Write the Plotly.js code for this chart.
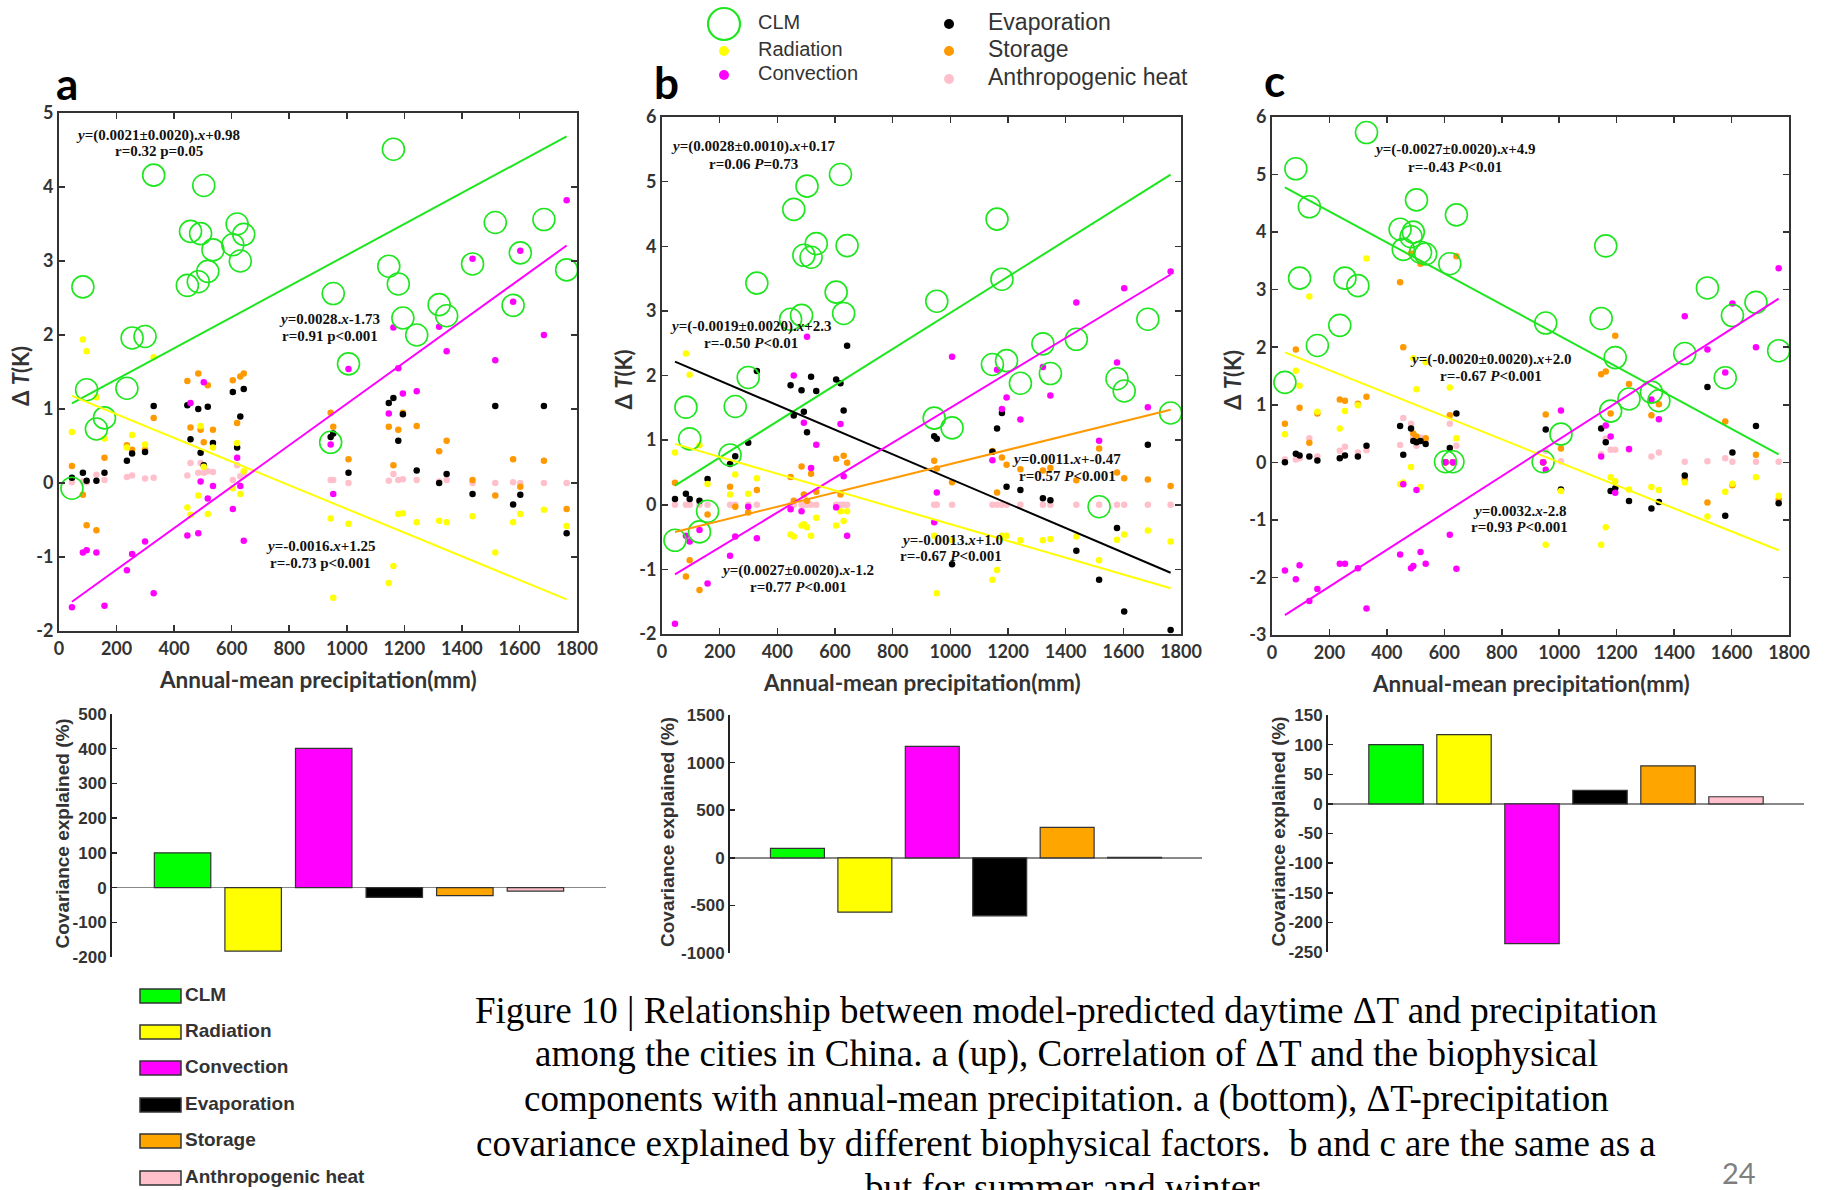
<!DOCTYPE html>
<html><head><meta charset="utf-8">
<script src="https://cdn.plot.ly/plotly-3.0.1.min.js"></script>
<style>html,body{margin:0;padding:0;background:#fff;}#chart{width:1825px;height:1190px;}</style>
</head><body><div id="chart"></div>
<script>
// ---------------- data ----------------
const precip = [45, 83, 96, 130, 158, 236, 254, 299, 329, 446, 457, 484, 492, 503, 517, 535, 604, 619, 630, 642, 944, 953, 1006, 1146, 1162, 1179, 1195, 1243, 1321, 1347, 1437, 1516, 1578, 1603, 1685, 1764];

// panel a (annual)
const clmA  = [-0.07, 2.65, 1.26, 0.73, 0.88, 1.28, 1.96, 1.98, 4.16, 2.67, 3.40, 2.72, 3.37, 4.02, 2.86, 3.15, 3.22, 3.50, 3.00, 3.36, 0.55, 2.56, 1.61, 2.93, 4.51, 2.69, 2.23, 2.00, 2.41, 2.26, 2.96, 3.52, 2.40, 3.11, 3.56, 2.88];
const radA  = [0.69, 1.94, 1.78, 1.16, 0.60, 0.48, 0.65, 0.52, 1.70, -0.33, -0.43, -0.17, 0.77, 0.22, -0.42, 0.48, -0.07, 0.54, -0.15, 0.16, -0.48, -1.55, -0.55, -1.35, -1.12, -0.42, -0.41, -0.53, -0.51, -0.53, -0.45, -0.94, -0.53, -0.42, -0.36, -0.58];
const convA = [-1.68, -0.94, -0.91, -0.94, -1.66, -1.18, -0.96, -0.79, -1.49, -0.71, 1.08, -0.68, 0.02, 1.36, -0.21, -0.04, -0.35, 0.34, -0.04, -0.78, 0.52, -0.15, 1.54, 0.94, 2.10, 1.55, 1.21, 1.24, 2.11, 1.78, 3.03, 1.66, 2.45, 3.14, 2.00, 3.82];
const evapA = [0.07, 0.14, 0.03, 0.03, 0.14, 0.30, 0.40, 0.42, 1.04, 1.05, 0.59, 1.00, 0.41, 0.24, 1.03, 0.54, 1.23, 0.48, 0.90, 1.27, 0.62, 0.67, 0.14, 1.08, 1.15, 0.57, 0.93, 0.17, 0.00, 0.12, -0.15, 1.04, -0.29, -0.16, 1.04, -0.68];
const storA = [0.23, -0.16, -0.57, -0.64, 0.34, 0.51, 0.45, 0.45, 0.88, 1.38, 0.75, 1.48, 0.72, 0.55, 1.32, 0.72, 1.39, 0.81, 1.44, 1.48, 0.95, 0.76, 0.32, 0.76, 0.24, 0.72, 0.95, 0.77, 0.43, 0.57, 0.04, -0.17, 0.32, -0.05, 0.30, -0.35];
const anthA = [0.01, 0.02, 0.01, 0.11, 0.04, 0.08, 0.10, 0.06, 0.07, 0.10, 0.27, 0.14, 0.27, 0.14, 0.16, 0.15, 0.04, 0.24, 0.09, 0.14, 0.04, 0.04, 0.00, 0.03, 0.12, 0.04, 0.05, 0.04, 0.02, 0.04, 0.00, 0.00, 0.01, 0.00, 0.00, 0.00];

// panel b (summer)
const clmB  = [-0.55, 1.51, 1.02, -0.42, -0.10, 0.77, 1.52, 1.97, 3.43, 2.87, 4.57, 2.93, 3.86, 4.93, 3.83, 4.04, 3.29, 5.11, 2.96, 4.01, 1.34, 3.15, 1.19, 2.17, 4.42, 3.49, 2.23, 1.88, 2.49, 2.03, 2.56, -0.03, 1.95, 1.76, 2.87, 1.42];
const radB  = [0.81, 2.34, 2.01, 0.92, 0.32, 0.16, 0.47, 0.17, 0.41, -0.46, -0.49, -0.32, -0.30, -0.35, -0.48, -0.20, -0.32, -0.10, -0.25, -0.10, -0.48, -1.37, -0.55, -1.16, -1.01, -0.48, -0.48, -0.55, -0.55, -0.53, -0.49, -0.86, -0.54, -0.46, -0.40, -0.57];
const convB = [-1.84, -0.48, -0.57, -0.39, -1.22, -0.79, -0.49, -0.03, -0.52, -0.07, 2.00, -0.10, 1.27, 2.60, 0.57, 0.93, -0.04, 1.25, 0.44, -0.48, -0.27, 0.19, 2.29, 0.69, 2.09, 1.48, 1.66, 1.32, 2.13, 1.69, 3.13, 0.99, 2.20, 3.35, 1.51, 3.61];
const evapB = [0.09, 0.17, 0.09, 0.06, 0.40, 0.63, 0.75, 0.96, 2.07, 1.85, 1.38, 1.77, 1.44, 1.12, 1.98, 1.76, 1.94, 1.88, 1.46, 2.46, 1.06, 1.02, -0.92, 0.82, 1.18, 1.42, 0.28, 0.23, 0.10, 0.07, -0.71, -1.16, -0.36, -1.65, 0.93, -1.94];
const storB = [0.34, -1.11, -0.86, -1.32, -0.15, 0.28, -0.03, -0.12, 0.23, 0.43, 0.06, 0.59, 0.16, 0.06, 0.48, 0.20, 0.71, 0.16, 0.76, 0.65, 0.68, 0.56, 0.35, 0.83, 0.19, 0.73, 0.62, 0.55, 0.53, 0.57, 0.38, 0.87, 0.50, 0.41, 0.39, 0.29];
const anthB = [0, 0, 0, 0, 0, 0, 0, 0, 0, 0, 0, 0, 0, 0, 0, 0, 0, 0, 0, 0, 0, 0, 0, 0, 0, 0, 0, 0, 0, 0, 0, 0, 0, 0, 0, 0];

// panel c (winter)
const clmC  = [1.39, 5.10, 3.20, 4.44, 2.03, 2.38, 3.20, 3.07, 5.73, 4.05, 3.70, 3.92, 4.00, 4.56, 3.65, 3.62, 0.01, 3.45, 0.01, 4.30, 0.01, 2.42, 0.49, 2.50, 3.76, 0.89, 1.82, 1.10, 1.22, 1.07, 1.89, 3.03, 1.47, 2.55, 2.78, 1.94];
const radC  = [0.49, 1.59, 1.33, 2.88, 0.88, 0.59, 0.89, 0.99, 3.54, -0.38, -0.35, -0.08, 1.81, 1.27, -0.43, 1.74, 0, 1.30, 0, 0.42, 0, -1.43, -0.50, -1.43, -1.13, -0.26, -0.33, -0.47, -0.43, -0.48, -0.35, -0.94, -0.51, -0.37, -0.26, -0.58];
const convC = [-1.88, -2.03, -1.79, -2.41, -2.20, -1.76, -1.76, -1.84, -2.54, -1.60, -0.38, -1.84, -1.80, -0.48, -1.56, -1.76, 0, -1.26, 0, -1.85, 0, -0.13, 0.90, 0.10, 0.64, 0.45, -0.53, 0.23, 1.09, 0.75, 2.54, 1.96, 1.56, 2.76, 2.00, 3.37];
const evapC = [0.00, 0.15, 0.12, 0.10, 0.03, 0.07, 0.12, 0.10, 0.29, 0.63, 0.13, 0.59, 0.37, 0.35, 0.37, 0.32, 0, 0.25, 0, 0.85, 0, 0.57, -0.47, 0.59, 0.35, -0.50, -0.45, -0.67, -0.80, -0.69, -0.23, 1.31, -0.93, 0.17, 0.63, -0.71];
const storC = [0.67, 1.96, 0.95, 0.34, 0.85, 1.09, 1.07, 1.02, 1.14, 3.13, 2.00, 3.63, 0.50, 0.45, 3.45, 0.42, 0, 0.82, 0, 3.58, 0, 0.83, 0.24, 1.53, 1.58, 0.85, 2.20, 1.36, 0.82, 1.01, -0.30, -0.70, 0.71, -0.40, 0.13, -0.65];
const anthC = [0.05, 0.05, 0.07, 0.42, 0.10, 0.20, 0.27, 0.17, 0.21, 0.30, 0.77, 0.67, 0.43, 0.29, 0.43, 0.39, 0, 0.67, 0, 0.29, 0, 0.20, 0.02, 0.14, 0.41, 0.22, 0.22, 0.22, 0.10, 0.17, 0.01, 0.02, 0.07, 0.01, 0.01, 0.01];

// regression fits (slope, intercept, series)
const fitSeriesA = ['clm', 'rad', 'conv'];
const fitSlopeA  = [0.0021, -0.0016, 0.0028];
const fitIntA    = [0.98, 1.25, -1.73];
const fitSeriesB = ['clm', 'evap', 'conv', 'stor', 'rad'];
const fitSlopeB  = [0.0028, -0.0019, 0.0027, 0.0011, -0.0013];
const fitIntB    = [0.17, 2.3, -1.2, -0.47, 1.0];
const fitSeriesC = ['clm', 'rad', 'conv'];
const fitSlopeC  = [-0.0027, -0.0020, 0.0032];
const fitIntC    = [4.9, 2.0, -2.8];

// covariance explained (%)
const categories = ['CLM', 'Radiation', 'Convection', 'Evaporation', 'Storage', 'Anthropogenic heat'];
const covA = [100, -183, 401, -28, -23, -10];
const covB = [100, -571, 1170, -609, 320, 5];
const covC = [100, 117, -236, 23, 64, 12];

// ---------------- styling / layout ----------------
const W = 1825, H = 1190;
const fx = p => p / W, fy = p => 1 - p / H;
const COL = {clm: '#1ee61e', rad: '#ffff00', conv: '#ff00ff', evap: '#000000', stor: '#ff9900', anth: '#ffc0cb'};
const BARCOL = ['#00ff00', '#ffff00', '#ff00ff', '#000000', '#ffa500', '#ffc0cb'];
const TICKFONT = {family: 'Lato', size: 18, color: '#333', weight: 700};

// tick values built from a range and step, labels with a plain hyphen minus
function ticks(r, step) {
  const v = [];
  for (let t = r[0]; t <= r[1] + 1e-9; t += step) v.push(Math.round(t * 1000) / 1000);
  return {tickmode: 'array', tickvals: v, ticktext: v.map(String)};
}

const panels = [
  {d: {clm: clmA, rad: radA, conv: convA, evap: evapA, stor: storA, anth: anthA}, fs: fitSeriesA, sl: fitSlopeA, ic: fitIntA,
   box: [59, 577, 113, 631], yr: [-2, 5]},
  {d: {clm: clmB, rad: radB, conv: convB, evap: evapB, stor: storB, anth: anthB}, fs: fitSeriesB, sl: fitSlopeB, ic: fitIntB,
   box: [662, 1181, 117, 634], yr: [-2, 6]},
  {d: {clm: clmC, rad: radC, conv: convC, evap: evapC, stor: storC, anth: anthC}, fs: fitSeriesC, sl: fitSlopeC, ic: fitIntC,
   box: [1272, 1789, 117, 635], yr: [-3, 6]}
];
const bars = [
  {v: covA, box: [112, 606, 714, 957], yr: [-200, 500], dt: 100, tx: 62},
  {v: covB, box: [730, 1202, 715, 953], yr: [-1000, 1500], dt: 500, tx: 667},
  {v: covC, box: [1328, 1804, 715, 952], yr: [-250, 150], dt: 50, tx: 1278}
];

const traces = [];
const layout = {
  width: W, height: H, margin: {l: 0, r: 0, t: 0, b: 0},
  paper_bgcolor: '#fff', plot_bgcolor: 'rgba(0,0,0,0)', showlegend: false,
  annotations: [], shapes: []
};

const xmin = Math.min(...precip), xmax = Math.max(...precip);
panels.forEach((p, i) => {
  const n = i + 1, xa = n === 1 ? 'x' : 'x' + n, ya = n === 1 ? 'y' : 'y' + n;
  const [x0, x1, y0, y1] = p.box;
  layout[n === 1 ? 'xaxis' : 'xaxis' + n] = Object.assign({
    domain: [fx(x0), fx(x1)], range: [0, 1800], anchor: ya,
    ticks: 'inside', ticklen: 6, tickwidth: 1.5, tickcolor: '#333', showline: true, linecolor: '#333', linewidth: 2,
    mirror: 'ticks', showgrid: false, zeroline: false, tickfont: TICKFONT
  }, ticks([0, 1800], 200));
  layout[n === 1 ? 'yaxis' : 'yaxis' + n] = Object.assign({
    domain: [fy(y1), fy(y0)], range: p.yr, anchor: xa,
    ticks: 'inside', ticklen: 6, tickwidth: 1.5, tickcolor: '#333', showline: true, linecolor: '#333', linewidth: 2,
    mirror: 'ticks', showgrid: false, zeroline: false, tickfont: TICKFONT
  }, ticks(p.yr, 1));
  ['anth', 'stor', 'evap', 'rad', 'conv'].forEach(k => {
    traces.push({type: 'scatter', mode: 'markers', x: precip, y: p.d[k], xaxis: xa, yaxis: ya, cliponaxis: false,
      marker: {size: 6.5, color: COL[k]}, hoverinfo: 'skip'});
  });
  traces.push({type: 'scatter', mode: 'markers', x: precip, y: p.d.clm, xaxis: xa, yaxis: ya, cliponaxis: false,
    marker: {symbol: 'circle-open', size: 22, color: COL.clm, line: {width: 1.6, color: COL.clm}}, hoverinfo: 'skip'});
  p.fs.forEach((k, j) => {
    const xs = [xmin, xmax];
    traces.push({type: 'scatter', mode: 'lines', x: xs, y: xs.map(x => p.sl[j] * x + p.ic[j]), xaxis: xa, yaxis: ya,
      line: {color: COL[k], width: 2}, hoverinfo: 'skip'});
  });
  // axis titles
  layout.annotations.push({xref: 'paper', yref: 'paper', x: fx((x0 + x1) / 2), y: fy(y1 + 48), showarrow: false,
    text: 'Annual-mean precipitation(mm)', xanchor: 'center', yanchor: 'middle',
    font: {family: 'Lato', size: 22.5, color: '#333', weight: 700}});
  layout.annotations.push({xref: 'paper', yref: 'paper', x: fx(x0 - 39), y: fy((y0 + y1) / 2 + 4), showarrow: false,
    text: 'Δ <i>T</i>(K)', textangle: -90, xanchor: 'center', yanchor: 'middle',
    font: {family: 'Lato', size: 22, color: '#333', weight: 700}});
});

bars.forEach((b, i) => {
  const n = i + 4;
  const [x0, x1, y0, y1] = b.box;
  layout['xaxis' + n] = {domain: [fx(x0), fx(x1)], range: [0, 7], anchor: 'y' + n, visible: false};
  layout['yaxis' + n] = Object.assign({
    domain: [fy(y1), fy(y0)], range: b.yr, anchor: 'x' + n,
    ticks: 'inside', ticklen: 5, tickwidth: 1.5, tickcolor: '#222', showline: true, linecolor: '#222', linewidth: 2,
    showgrid: false, zeroline: true, zerolinecolor: '#888', zerolinewidth: 1.5,
    tickfont: {family: 'Liberation Sans', size: 17, color: '#333', weight: 700}
  }, ticks(b.yr, b.dt));
  traces.push({type: 'bar', x: categories.map((c, k) => k + 1), y: b.v, width: 0.8, xaxis: 'x' + n, yaxis: 'y' + n,
    marker: {color: BARCOL, line: {color: '#333', width: 1.2}}, hoverinfo: 'skip'});
  layout.annotations.push({xref: 'paper', yref: 'paper', x: fx(b.tx), y: fy((y0 + y1) / 2 - 2), showarrow: false,
    text: 'Covariance explained (%)', textangle: -90, xanchor: 'center', yanchor: 'middle',
    font: {family: 'Liberation Sans', size: 19, color: '#333', weight: 700}});
});

// panel letters
[['a', 67, 83], ['b', 666, 82], ['c', 1274, 80]].forEach(([t, x, y]) => {
  layout.annotations.push({xref: 'paper', yref: 'paper', x: fx(x), y: fy(y), text: t, showarrow: false,
    xanchor: 'center', yanchor: 'middle', font: {family: 'Lato', size: 44, color: '#000', weight: 700}});
});

// regression equations
const EQF = {family: 'Liberation Serif', size: 15, color: '#111', weight: 700};
const eqs = [
  ['x', 'y', 345, 4.70, '<i>y</i>=(0.0021±0.0020).<i>x</i>+0.98'], ['x', 'y', 346, 4.48, 'r=0.32 p=0.05'],
  ['x', 'y', 940, 2.21, '<i>y</i>=0.0028.<i>x</i>-1.73'], ['x', 'y', 940, 1.99, 'r=0.91 p&lt;0.001'],
  ['x', 'y', 912, -0.85, '<i>y</i>=-0.0016.<i>x</i>+1.25'], ['x', 'y', 910, -1.08, 'r=-0.73 p&lt;0.001'],
  ['x2', 'y2', 319, 5.54, '<i>y</i>=(0.0028±0.0010).<i>x</i>+0.17'], ['x2', 'y2', 318, 5.27, 'r=0.06 <i>P</i>=0.73'],
  ['x2', 'y2', 307, 2.76, '<i>y</i>=(-0.0019±0.0020).<i>x</i>+2.3'], ['x2', 'y2', 307, 2.50, 'r=-0.50 <i>P</i>&lt;0.01'],
  ['x2', 'y2', 1404, 0.71, '<i>y</i>=0.0011.<i>x</i>+-0.47'], ['x2', 'y2', 1407, 0.44, 'r=0.57 <i>P</i>&lt;0.001'],
  ['x2', 'y2', 1005, -0.54, '<i>y</i>=-0.0013.<i>x</i>+1.0'], ['x2', 'y2', 1003, -0.79, 'r=-0.67 <i>P</i>&lt;0.001'],
  ['x2', 'y2', 471, -1.01, '<i>y</i>=(0.0027±0.0020).<i>x</i>-1.2'], ['x2', 'y2', 472, -1.28, 'r=0.77 <i>P</i>&lt;0.001'],
  ['x3', 'y3', 638, 5.43, '<i>y</i>=(-0.0027±0.0020).<i>x</i>+4.9'], ['x3', 'y3', 638, 5.13, 'r=-0.43 <i>P</i>&lt;0.01'],
  ['x3', 'y3', 761, 1.79, '<i>y</i>=(-0.0020±0.0020).<i>x</i>+2.0'], ['x3', 'y3', 763, 1.50, 'r=-0.67 <i>P</i>&lt;0.001'],
  ['x3', 'y3', 860, -0.84, '<i>y</i>=0.0032.<i>x</i>-2.8'], ['x3', 'y3', 860, -1.13, 'r=0.93 <i>P</i>&lt;0.001']
];
eqs.forEach(([xr, yr, x, y, t]) => layout.annotations.push({xref: xr, yref: yr, x, y, text: t, showarrow: false,
  xanchor: 'center', yanchor: 'middle', font: EQF}));

// top legend
const legL = [['CLM', 24, 'clm'], ['Radiation', 51, 'rad'], ['Convection', 75, 'conv']];
const legR = [['Evaporation', 22, 'evap'], ['Storage', 49, 'stor'], ['Anthropogenic heat', 77, 'anth']];
legL.forEach(([t, y, k]) => {
  const r = k === 'clm' ? 16 : 5;
  layout.shapes.push({type: 'circle', xref: 'paper', yref: 'paper', x0: fx(724 - r), x1: fx(724 + r), y0: fy(y + r), y1: fy(y - r),
    line: {color: COL[k], width: k === 'clm' ? 2.2 : 0}, fillcolor: k === 'clm' ? 'rgba(0,0,0,0)' : COL[k]});
  layout.annotations.push({xref: 'paper', yref: 'paper', x: fx(756), y: fy(y - 2), text: t, showarrow: false,
    xanchor: 'left', yanchor: 'middle', font: {family: 'Liberation Sans', size: 20, color: '#333'}});
});
legR.forEach(([t, y, k]) => {
  const r = 5;
  layout.shapes.push({type: 'circle', xref: 'paper', yref: 'paper', x0: fx(949 - r), x1: fx(949 + r), y0: fy(y + 2 + r), y1: fy(y + 2 - r),
    line: {width: 0}, fillcolor: COL[k]});
  layout.annotations.push({xref: 'paper', yref: 'paper', x: fx(986), y: fy(y), text: t, showarrow: false,
    xanchor: 'left', yanchor: 'middle', font: {family: 'Liberation Sans', size: 23, color: '#333'}});
});

// bottom legend
const rowY = [996, 1032, 1068, 1105, 1141, 1178];
categories.forEach((c, k) => {
  const y = rowY[k];
  layout.shapes.push({type: 'rect', xref: 'paper', yref: 'paper', x0: fx(140), x1: fx(181), y0: fy(y + 7), y1: fy(y - 7),
    line: {color: '#333', width: 1.5}, fillcolor: BARCOL[k]});
  layout.annotations.push({xref: 'paper', yref: 'paper', x: fx(183), y: fy(y - 2), text: c, showarrow: false,
    xanchor: 'left', yanchor: 'middle', font: {family: 'Liberation Sans', size: 19, color: '#333', weight: 700}});
});

// caption
const caption = [
  'Figure 10 | Relationship between model-predicted daytime ΔT and precipitation',
  'among the cities in China. a (up), Correlation of ΔT and the biophysical',
  'components with annual-mean precipitation. a (bottom), ΔT-precipitation',
  'covariance explained by different biophysical factors.  b and c are the same as a',
  'but for summer and winter.'
];
caption.forEach((t, k) => layout.annotations.push({xref: 'paper', yref: 'paper', x: fx(1066), y: fy(1010 + k * 44.4),
  text: t, showarrow: false, xanchor: 'center', yanchor: 'middle',
  font: {family: 'Liberation Serif', size: 37, color: '#000'}}));
layout.annotations.push({xref: 'paper', yref: 'paper', x: fx(1739), y: fy(1172), text: '24', showarrow: false,
  xanchor: 'center', yanchor: 'middle', font: {family: 'Lato', size: 29, color: '#7f7f7f'}});

Plotly.newPlot('chart', traces, layout, {staticPlot: true, displayModeBar: false});
</script></body></html>
